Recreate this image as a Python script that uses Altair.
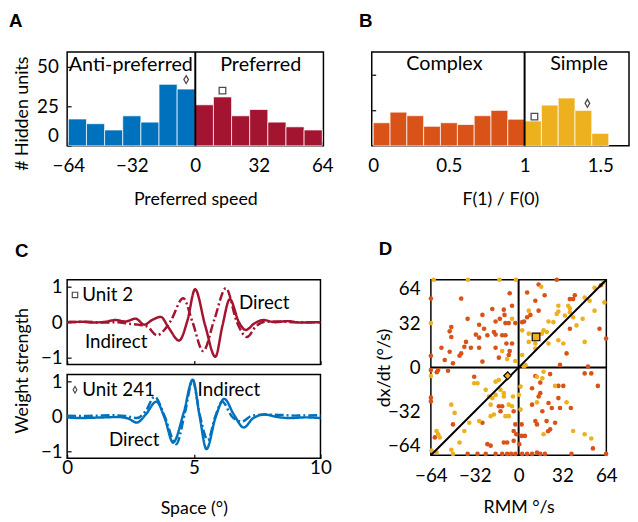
import altair as alt
import pandas as pd

BLUE = "#0072BD"
RED = "#A2142F"
ORANGE = "#D95319"
YELLOW = "#EDB120"
FONT = "Lato"
TICK = 4
LBL = 19
TTL = 18
TXT = 20

# ---------------- Panel A: preferred speed histogram ----------------
a_bin_start = [-64, -54.857, -45.714, -36.571, -27.429, -18.286, -9.143,
               0, 9.143, 18.286, 27.429, 36.571, 45.714, 54.857]
a_bin_end = a_bin_start[1:] + [64]
a_counts = [17, 14, 10, 19, 15, 39, 36, 26, 31, 19, 23, 15, 12, 10]
a_side = ["Anti-preferred"] * 7 + ["Preferred"] * 7
a_labels = ["Anti-preferred", "Preferred"]
a_label_x = [-32.5, 33]
a_label_y = [51.5, 51.5]
a_marker_shape = ["diamond", "square"]
a_marker_x = [-4.6, 13.7]
a_marker_y = [42, 35]

# ---------------- Panel B: F(1)/F(0) histogram ----------------
b_bin_start = [0, 0.111, 0.222, 0.333, 0.444, 0.556, 0.667, 0.778, 0.889,
               1.0, 1.111, 1.222, 1.333, 1.444]
b_bin_end = b_bin_start[1:] + [1.556]
b_counts = [13, 19, 17, 11, 13, 12, 17, 20, 15, 14, 23, 27, 20, 7]
b_type = ["Complex"] * 9 + ["Simple"] * 5
b_labels = ["Complex", "Simple"]
b_label_x = [0.47, 1.36]
b_label_y = [46, 46]
b_marker_shape = ["square", "diamond"]
b_marker_x = [1.065, 1.415]
b_marker_y = [16.5, 24]

# ---------------- Panel C: weight profiles ----------------
c1_direct_x = [0, 0.6, 1.0, 1.5, 1.9, 2.3, 2.7, 3.05, 3.35, 3.7, 4.0, 4.42, 4.75, 5.05,
               5.45, 5.85, 6.13, 6.42, 6.78, 7.05, 7.4, 7.75, 8.2, 8.7, 9.2, 10]
c1_direct_y = [0.0, 0.01, -0.01, 0.01, 0.06, 0.02, 0.1, -0.07, 0.06, 0.15, -0.15, -0.52, 0.05, 0.93,
               -0.1, -0.98, -0.1, 0.65, 0.0, -0.22, -0.03, 0.06, 0.0, 0.03, -0.01, 0.0]
c1_indirect_x = [0, 0.8, 1.5, 2.0, 2.4, 2.8, 3.15, 3.55, 3.8, 4.1, 4.58, 4.95, 5.37, 5.8,
                 6.27, 6.7, 7.1, 7.45, 7.8, 8.3, 9.0, 10]
c1_indirect_y = [0.0, 0.01, -0.01, 0.0, -0.04, -0.07, -0.12, -0.37, -0.25, 0.05, 0.68, 0.0, -0.82, 0.05,
                 0.96, 0.0, -0.42, -0.12, 0.01, 0.02, 0.0, 0.0]
c2_direct_x = [0, 0.5, 1.0, 1.5, 2.0, 2.4, 2.75, 3.1, 3.52, 3.85, 4.18, 4.6, 4.96, 5.22, 5.5,
               5.85, 6.2, 6.58, 6.97, 7.35, 7.8, 8.3, 8.8, 9.4, 10]
c2_direct_y = [-0.03, -0.05, -0.04, -0.03, -0.02, -0.06, -0.18, 0.05, 0.42, -0.05, -0.75, 0.1, 1.05, 0.05, -0.94,
               -0.05, 0.5, 0.05, -0.32, -0.05, 0.05, -0.02, -0.05, -0.03, -0.05]
c2_indirect_x = [0, 0.6, 1.2, 1.8, 2.3, 2.75, 3.1, 3.45, 3.85, 4.3, 4.65, 4.95, 5.25, 5.55,
                 5.85, 6.12, 6.5, 6.9, 7.3, 7.8, 8.4, 9.0, 10]
c2_indirect_y = [0.02, 0.01, 0.02, 0.03, 0.01, -0.05, 0.15, 0.56, 0.0, -0.8, 0.1, 1.02, 0.0, -0.68,
                 0.0, 0.42, 0.0, -0.15, 0.02, 0.05, 0.04, 0.02, 0.03]
c1_text = ["Unit 2", "Direct", "Indirect"]
c1_text_x = [0.6, 6.78, 0.7]
c1_text_y = [0.77, 0.55, -0.55]
c2_text = ["Unit 241", "Indirect", "Direct"]
c2_text_x = [0.6, 5.15, 1.65]
c2_text_y = [0.76, 0.76, -0.67]
c_marker_x = 0.31

# ---------------- Panel D: scatter ----------------
d_complex = [
    (-64, 50.3), (-41.9, 50.3), (-6.5, 54.2), (-4.8, 45.1), (-10.8, 42.2), (-19.2, 42.7), (-10.3, 38.4),
    (-13.7, 35.5), (-26.4, 38.4), (-37.2, 35.5), (-9.6, 32.4), (-7.2, 32.4), (-2.4, 32.4), (-16.8, 33.6),
    (-28.8, 31.2), (-49.1, 29.5), (-50.3, 26.4), (-49.1, 22.3), (-31.2, 24), (-28.8, 21.8), (-25.2, 28.3),
    (-22.8, 23.5), (-18, 25.9), (-16.8, 24), (-12, 23.5), (-9.6, 23.5), (-8.9, 17.5), (-4.8, 17.5),
    (-38.4, 18.7), (-39.6, 15.1), (-34.8, 14.4), (-28.8, 14.4), (-16.8, 14.4), (-56.3, 14.4), (-50.3, 11.5),
    (-41.9, 10.3), (-43.1, 8.6), (-64, 8.6), (-6.5, 12), (-7.2, 9.1), (-53.9, 5.5), (-47.9, 3.1),
    (-26.4, 4.3), (-14.4, 7.2),
    (27.8, 64), (14.6, 60.6), (6.2, 54.7), (19, 52.7), (41, 52.7), (37.4, 49.9), (39.8, 49.9), (12.2, 48.7),
    (8.6, 38.4), (6.2, 36.7), (2.6, 33.1), (4.0, 33.6), (14.6, 41.5), (37.4, 28.3), (59, 28.3), (63.8, 21.1),
    (35, 10.3), (30.2, 1.9), (50.6, 0.7), (60, 60),
    (-64, -1.9), (-58.7, -1.9), (-51.5, -2.4), (-32.4, -6.7), (-12, -28.3), (-14.4, -28.3), (-3.6, -31.9),
    (-26.4, -40.3), (-64, -24.7), (-61.1, -51), (-47.9, -41.5), (-22.8, -55.9), (-20.4, -57), (-10.8, -54.7),
    (-8.4, -54.7), (-3.6, -53.5), (-3.6, -46.3), (-37.2, -63), (-30, -63), (-24, -63), (-16.8, -63),
    (-12, -63), (-8.4, -63), (-5.5, -63), (-2.4, -63), (-1.7, -48.7), (-2.4, -41.5), (-13.2, -31.9),
    (-59.7, -3.4), (-64, -22),
    (23, -4.8), (12.2, -6.2), (48.2, -4.3), (53, -4.3), (57.8, -13.4), (2.2, -41.5), (9.8, -15.1),
    (15.8, -11), (15.8, -18.7), (14.6, -21.1), (29, -13.4), (32.6, -13.4), (21.8, -25.9), (24.2, -29.5),
    (29, -22.3), (30.2, -29.5), (38.1, -29.5), (9.8, -27.1), (17.3, -31.9), (12.2, -39.1), (13.4, -41.5),
    (20.4, -39.1), (26.6, -40.3), (23, -45.1), (21.5, -46.5), (54.2, -59), (2.2, -49.9), (4.6, -49.9),
    (2.6, -63), (6.2, -63), (9.8, -63), (13.4, -62), (15.8, -63), (19.2, -63), (38.6, -63), (63.8, -63),
    (0.5, -56),
]
d_simple = [
    (-62, 64), (-37, 64), (-14, 64), (-2, 64), (-64, 32.4), (-4.8, 35.5), (-12, 12), (-8.4, 6.2), (-2.4, 4.8),
    (16.5, 58.9), (55.4, 58.2), (62, 62), (48.2, 51), (51.8, 48.7), (62.6, 47.5), (29, 45.1), (36.2, 45.1),
    (37.4, 43.1), (37.4, 40.3), (33.8, 37.9), (27.8, 39.1), (29, 40.8), (7.4, 41.5), (21.8, 33.6),
    (25.4, 33.1), (39.8, 36.7), (46.7, 35.5), (55.4, 41.5), (2.6, 27.1), (7.4, 24.7), (18.2, 27.1),
    (20.6, 25.9), (17, 24.7), (42.2, 30.7), (7.4, 18.7), (12.2, 17.5), (29, 19.9), (32.6, 17.5),
    (48.2, 18.7), (21.8, 17.5), (12.2, 13.9), (2.6, 9.1), (3.8, 0.7),
    (-64, -6.2), (-32.4, -11.5), (-30, -11.5), (-16.8, -10.3), (-14.4, -9.1), (-24, -16.3), (-21.6, -21.1),
    (-16.8, -20), (-19.2, -22.3), (-10.8, -18.7), (-10.8, -21.1), (-4.1, -21.1), (-4.8, -28.3), (-7.2, -27.1),
    (-9.6, -35.5), (-7.2, -35.5), (-20.4, -35.5), (-18, -34.3), (-28.8, -39.1), (-36, -40.3), (-49.1, -27.1),
    (-46.7, -33.1), (-59.9, -46.3), (-58.7, -48.7), (-57.5, -51), (-39.6, -46.3), (-43.1, -54.7),
    (-63.5, -60.6), (-59.9, -61.8), (-49.1, -60), (-47.9, -63), (-13.2, -16.3), (-20.4, -27.1),
    (5, 1.7), (18.2, -3.1), (13.4, -6.7), (17.3, -7.9), (1.4, -13.9), (0.2, -19.9), (1.4, -30.7),
    (26.6, -13.4), (35, -25.4), (13.4, -25.4), (18.2, -48.7), (39.8, -46.3), (48.2, -48.7), (53, -51.8),
]
d_marker_shape = ["square", "diamond"]
d_marker_x = [12.7, -8]
d_marker_y = [22.3, -6]
d_ticks = [-64, -32, 0, 32, 64]
d_diag = [-64, 64]

DIAMOND = "M0,-1.2L0.7,0L0,1.2L-0.7,0Z"


def x_axis(values, title=None, labels=True, fmt="d", label_pad=10, title_pad=14, flush=False):
    return alt.Axis(values=values, title=title, labels=labels, format=fmt, ticks=True, tickSize=TICK,
                    offset=-TICK, domain=False, grid=False, labelPadding=label_pad, titlePadding=title_pad,
                    labelFlush=flush, tickColor="black", tickWidth=1.2)


def y_axis(values, title=None, labels=True, fmt="d", label_pad=10, title_pad=14, flush=True, **kw):
    return alt.Axis(values=values, title=title, labels=labels, format=fmt, ticks=True, tickSize=TICK,
                    offset=-TICK, domain=False, grid=False, labelPadding=label_pad, titlePadding=title_pad,
                    labelFlush=flush, tickColor="black", tickWidth=1.2, **kw)


def panel_title(txt, offset, dx=0):
    return alt.TitleParams(txt, anchor="start", font="Liberation Sans", fontSize=19, fontWeight="bold",
                           offset=offset, dx=dx, color="black")


div_style = dict(color="black", strokeWidth=2)
text_style = dict(font=FONT, fontSize=TXT, color="black", baseline="middle")

# ---------- A ----------
sxA = alt.Scale(domain=[-64.6, 64.6], nice=False, zero=False)
syA = alt.Scale(domain=[0, 59.5], nice=False)
axA = x_axis([-64, -32, 0, 32, 64], title="Preferred speed", label_pad=11, title_pad=16)
ayA = y_axis([0, 25, 50], title="# Hidden units", label_pad=9, title_pad=6, titleX=-40, titleY=62)
dfA = pd.DataFrame({"x": a_bin_start, "x2": a_bin_end, "y": a_counts, "g": a_side})
dfAt = pd.DataFrame({"x": a_label_x, "y": a_label_y, "t": a_labels})
dfAm = pd.DataFrame({"x": a_marker_x, "y": a_marker_y, "s": a_marker_shape})
dfAd = pd.DataFrame({"x": [0]})

barsA = alt.Chart(dfA).mark_bar(stroke="white", strokeWidth=1, strokeOpacity=0.7).encode(
    x=alt.X("x:Q", scale=sxA, axis=axA), x2="x2:Q",
    y=alt.Y("y:Q", scale=syA, axis=ayA), y2=alt.datum(0),
    color=alt.Color("g:N", scale=alt.Scale(domain=a_labels, range=[BLUE, RED]), legend=None))
divA = alt.Chart(dfAd).mark_rule(**div_style).encode(x=alt.X("x:Q", scale=sxA, axis=axA))
txtA = alt.Chart(dfAt).mark_text(**text_style).encode(
    x=alt.X("x:Q", scale=sxA, axis=axA), y=alt.Y("y:Q", scale=syA, axis=ayA), text="t:N")
mkA = alt.Chart(dfAm).mark_point(filled=False, color="black", strokeWidth=1.3, size=45).encode(
    x=alt.X("x:Q", scale=sxA, axis=axA), y=alt.Y("y:Q", scale=syA, axis=ayA),
    shape=alt.Shape("s:N", scale=alt.Scale(domain=["diamond", "square"], range=[DIAMOND, "square"]), legend=None))
chartA = alt.layer(barsA, divA, txtA, mkA).properties(width=260, height=95, title=panel_title("A", 20, -5))

# ---------- B ----------
sxB = alt.Scale(domain=[-0.01, 1.69], nice=False, zero=False)
syB = alt.Scale(domain=[0, 53], nice=False)
axB = x_axis([0, 0.5, 1, 1.5], title="F(1) / F(0)", fmt="~g", label_pad=11, title_pad=16)
ayB = y_axis([20, 40], labels=False, flush=False)
dfB = pd.DataFrame({"x": b_bin_start, "x2": b_bin_end, "y": b_counts, "g": b_type})
dfBt = pd.DataFrame({"x": b_label_x, "y": b_label_y, "t": b_labels})
dfBm = pd.DataFrame({"x": b_marker_x, "y": b_marker_y, "s": b_marker_shape})
dfBd = pd.DataFrame({"x": [1]})

barsB = alt.Chart(dfB).mark_bar(stroke="white", strokeWidth=1, strokeOpacity=0.7).encode(
    x=alt.X("x:Q", scale=sxB, axis=axB), x2="x2:Q",
    y=alt.Y("y:Q", scale=syB, axis=ayB), y2=alt.datum(0),
    color=alt.Color("g:N", scale=alt.Scale(domain=b_labels, range=[ORANGE, YELLOW]), legend=None))
divB = alt.Chart(dfBd).mark_rule(**div_style).encode(x=alt.X("x:Q", scale=sxB, axis=axB))
txtB = alt.Chart(dfBt).mark_text(**text_style).encode(
    x=alt.X("x:Q", scale=sxB, axis=axB), y=alt.Y("y:Q", scale=syB, axis=ayB), text="t:N")
mkB = alt.Chart(dfBm).mark_point(filled=False, color="black", strokeWidth=1.3, size=45).encode(
    x=alt.X("x:Q", scale=sxB, axis=axB), y=alt.Y("y:Q", scale=syB, axis=ayB),
    shape=alt.Shape("s:N", scale=alt.Scale(domain=["diamond", "square"], range=[DIAMOND, "square"]), legend=None))
chartB = alt.layer(barsB, divB, txtB, mkB).properties(width=261, height=95, title=panel_title("B", 20, -9))

# ---------- C ----------
sxC = alt.Scale(domain=[0, 10], nice=False, zero=False)
syC = alt.Scale(domain=[-1.2, 1.2], nice=False)


def c_panel(dx, dy, ix, iy, color, texts, tx, ty, marker, show_x, ytitle):
    df = pd.concat([
        pd.DataFrame({"x": dx, "y": dy, "k": "Direct"}),
        pd.DataFrame({"x": ix, "y": iy, "k": "Indirect"}),
    ])
    if show_x:
        ax = x_axis([0, 5, 10], title="Space (°)", label_pad=1, title_pad=22)
    else:
        ax = x_axis([0, 5, 10], labels=False)
    if ytitle:
        ay = y_axis([-1, 0, 1], title="Weight strength", label_pad=5, title_pad=7, flush=False,
                    titleX=-40, titleY=92)
    else:
        ay = y_axis([-1, 0, 1], label_pad=5, flush=False)
    lines = alt.Chart(df).mark_line(strokeWidth=2.5, interpolate="monotone", color=color).encode(
        x=alt.X("x:Q", scale=sxC, axis=ax), y=alt.Y("y:Q", scale=syC, axis=ay),
        detail="k:N",
        strokeDash=alt.StrokeDash("k:N", scale=alt.Scale(domain=["Direct", "Indirect"],
                                                         range=[[1, 0], [9, 3, 2, 3]]), legend=None))
    dft = pd.DataFrame({"x": tx, "y": ty, "t": texts})
    txt = alt.Chart(dft).mark_text(align="left", font=FONT, fontSize=19, color="black", baseline="middle").encode(
        x=alt.X("x:Q", scale=sxC, axis=ax), y=alt.Y("y:Q", scale=syC, axis=ay), text="t:N")
    dfm = pd.DataFrame({"x": [c_marker_x], "y": [ty[0]], "s": [marker]})
    mk = alt.Chart(dfm).mark_point(filled=False, color="black", strokeWidth=1.2, size=30).encode(
        x=alt.X("x:Q", scale=sxC, axis=ax), y=alt.Y("y:Q", scale=syC, axis=ay),
        shape=alt.Shape("s:N", scale=alt.Scale(domain=["diamond", "square"], range=[DIAMOND, "square"]),
                        legend=None))
    return alt.layer(lines, txt, mk)


chartC1 = c_panel(c1_direct_x, c1_direct_y, c1_indirect_x, c1_indirect_y, RED,
                  c1_text, c1_text_x, c1_text_y, "square", False, True).properties(
    width=257, height=86, title=panel_title("C", 17, 1))
chartC2 = c_panel(c2_direct_x, c2_direct_y, c2_indirect_x, c2_indirect_y, BLUE,
                  c2_text, c2_text_x, c2_text_y, "diamond", True, False).properties(width=257, height=85)
chartC = alt.vconcat(chartC1, chartC2, spacing=10, bounds="flush")

# ---------- D ----------
sxD = alt.Scale(domain=[-64, 64], nice=False, zero=False)
syD = alt.Scale(domain=[-64, 64], nice=False, zero=False)
axD = alt.Axis(values=d_ticks, title="RMM °/s", format="d", ticks=False, domain=False, grid=False,
               labelPadding=12, titlePadding=13, labelFlush=False)
ayD = alt.Axis(values=d_ticks, title="dx/dt (°/s)", format="d", ticks=False, domain=False, grid=False,
               labelPadding=11, titlePadding=4, labelFlush=True, titleX=-38)
dfD = pd.concat([
    pd.DataFrame({"x": [p[0] for p in d_complex], "y": [p[1] for p in d_complex], "g": "Complex"}),
    pd.DataFrame({"x": [p[0] for p in d_simple], "y": [p[1] for p in d_simple], "g": "Simple"}),
])
dfDm = pd.DataFrame({"x": d_marker_x, "y": d_marker_y, "s": d_marker_shape})
dfDz = pd.DataFrame({"v": [0]})
dfDg = pd.DataFrame({"x": d_diag, "y": d_diag})

ptsD = alt.Chart(dfD).mark_circle(size=22, opacity=1).encode(
    x=alt.X("x:Q", scale=sxD, axis=axD), y=alt.Y("y:Q", scale=syD, axis=ayD),
    color=alt.Color("g:N", scale=alt.Scale(domain=["Complex", "Simple"], range=[ORANGE, YELLOW]), legend=None))
vD = alt.Chart(dfDz).mark_rule(**div_style).encode(x=alt.X("v:Q", scale=sxD, axis=axD))
hD = alt.Chart(dfDz).mark_rule(**div_style).encode(y=alt.Y("v:Q", scale=syD, axis=ayD))
diagD = alt.Chart(dfDg).mark_line(color="black", strokeWidth=2).encode(
    x=alt.X("x:Q", scale=sxD, axis=axD), y=alt.Y("y:Q", scale=syD, axis=ayD))
mkD = alt.Chart(dfDm).mark_point(filled=True, fill=YELLOW, stroke="black", strokeWidth=1.2, size=60,
                                 opacity=1).encode(
    x=alt.X("x:Q", scale=sxD, axis=axD), y=alt.Y("y:Q", scale=syD, axis=ayD),
    shape=alt.Shape("s:N", scale=alt.Scale(domain=["diamond", "square"], range=["diamond", "square"]),
                    legend=None))
chartD = alt.layer(vD, hD, ptsD, diagD, mkD).properties(width=178, height=178,
                                                        title=panel_title("D", 17, 3))

indep = dict(color="independent", shape="independent", strokeDash="independent")
top = alt.hconcat(chartA, chartB, spacing=49, bounds="flush").resolve_scale(**indep)
bottom = alt.hconcat(chartC, chartD, spacing=43).resolve_scale(**indep)
chart = alt.vconcat(top, bottom, spacing=30).resolve_scale(**indep).properties(
    padding=0
).configure(
    font=FONT
).configure_view(
    stroke="black", strokeWidth=1.5
).configure_axis(
    labelFont=FONT, titleFont=FONT, labelFontSize=LBL, titleFontSize=TTL, labelColor="black",
    titleColor="black", titleFontWeight="normal"
)

chart.save("out.html", embed_options={"renderer": "svg", "actions": False})
